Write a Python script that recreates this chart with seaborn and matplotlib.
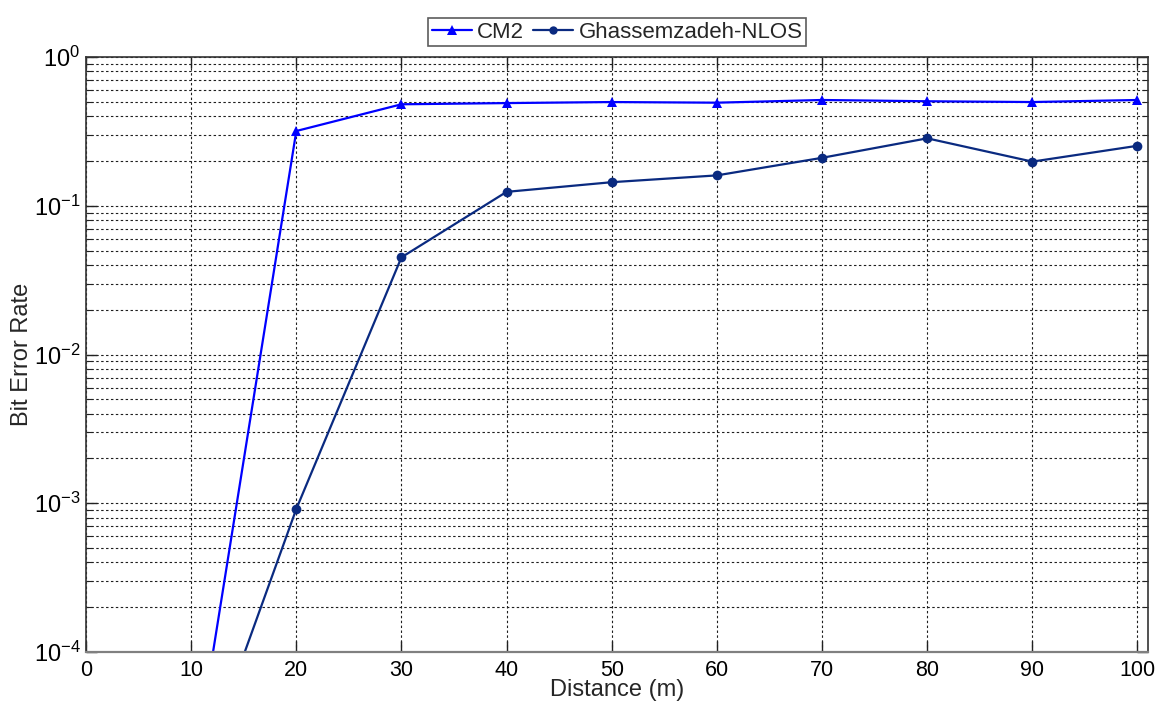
import numpy as np
import pandas as pd
import matplotlib
matplotlib.use("Agg")
import matplotlib.pyplot as plt
import seaborn as sns
from matplotlib.ticker import LogLocator

# Distance in metres and bit error rate of each channel model
distance = [10, 20, 30, 40, 50, 60, 70, 80, 90, 100]
ber_cm2 = [1.2e-5, 0.318, 0.481, 0.490, 0.498, 0.493, 0.514, 0.504, 0.498, 0.514]
ber_ghassemzadeh = [1.0e-5, 9.15e-4, 0.045, 0.124, 0.144, 0.160, 0.210, 0.284, 0.198, 0.253]
series_names = ["CM2", "Ghassemzadeh-NLOS"]
x_ticks = [0, 10, 20, 30, 40, 50, 60, 70, 80, 90, 100]

df = pd.DataFrame({
    "Distance": distance * 2,
    "BER": ber_cm2 + ber_ghassemzadeh,
    "Model": [series_names[0]] * len(distance) + [series_names[1]] * len(distance),
})

sns.set_style("ticks")
plt.rcParams["font.family"] = ["Liberation Sans", "DejaVu Sans"]
plt.rcParams["mathtext.fontset"] = "custom"
plt.rcParams["mathtext.rm"] = "Liberation Sans"
plt.rcParams["mathtext.it"] = "Liberation Sans"
plt.rcParams["mathtext.bf"] = "Liberation Sans"

fig = plt.figure(figsize=(11.62, 7.02), dpi=100)
ax = fig.add_axes([86 / 1162, 1 - 652 / 702, (1148 - 86) / 1162, (652 - 57) / 702])

palette = {series_names[0]: "#0000ff", series_names[1]: "#0a2a80"}
sns.lineplot(
    data=df, x="Distance", y="BER", hue="Model", style="Model",
    markers={series_names[0]: "^", series_names[1]: "o"}, dashes=False,
    palette=palette, linewidth=1.6, markersize=7, markeredgewidth=0,
    ax=ax, legend=False,
)

ax.set_yscale("log")
ax.set_xlim(0, 101)
ax.set_ylim(1e-4, 1)
ax.set_xticks(x_ticks)
ax.yaxis.set_major_locator(LogLocator(base=10, numticks=10))
ax.yaxis.set_minor_locator(LogLocator(base=10, subs=np.arange(2, 10), numticks=20))

grid_kw = dict(color="#1e1e1e", linestyle=(0, (2.2, 2.2)), linewidth=0.8)
ax.grid(True, which="major", axis="both", **grid_kw)
ax.grid(True, which="minor", axis="y", **grid_kw)

ax.tick_params(axis="both", which="both", direction="in", top=True, right=True,
               colors="#222222", labelcolor="black")
ax.tick_params(axis="x", which="major", labelsize=15.5, pad=6)
ax.tick_params(axis="y", which="major", labelsize=17, pad=4)
ax.tick_params(axis="both", which="major", length=8, width=1)
ax.tick_params(axis="y", which="minor", length=4, width=0.8)

for side in ["top", "right", "left", "bottom"]:
    ax.spines[side].set_visible(True)
    ax.spines[side].set_color("#333333")
    ax.spines[side].set_linewidth(1.2)
ax.spines["bottom"].set_color("#808080")
ax.spines["bottom"].set_linewidth(1.6)

ax.set_xlabel("Distance (m)", fontsize=17, va="center")
ax.set_ylabel("Bit Error Rate", fontsize=17, va="center")
ax.xaxis.set_label_coords(0.5, -0.064)
ax.yaxis.set_label_coords(-0.060, 0.5)

handles = [
    plt.Line2D([], [], color=palette[series_names[0]], marker="^", markersize=7, linewidth=1.6, markeredgewidth=0),
    plt.Line2D([], [], color=palette[series_names[1]], marker="o", markersize=6, linewidth=1.6, markeredgewidth=0),
]
leg = ax.legend(handles, series_names, loc="lower center", bbox_to_anchor=(0.5, 1.0),
                ncol=2, fontsize=16, frameon=True, fancybox=False, handlelength=1.8,
                handletextpad=0.25, columnspacing=0.4, borderpad=0.15, borderaxespad=0.5)
leg.get_frame().set_edgecolor("#333333")
leg.get_frame().set_linewidth(1.2)

fig.savefig("out.png", dpi=100, facecolor="white")
